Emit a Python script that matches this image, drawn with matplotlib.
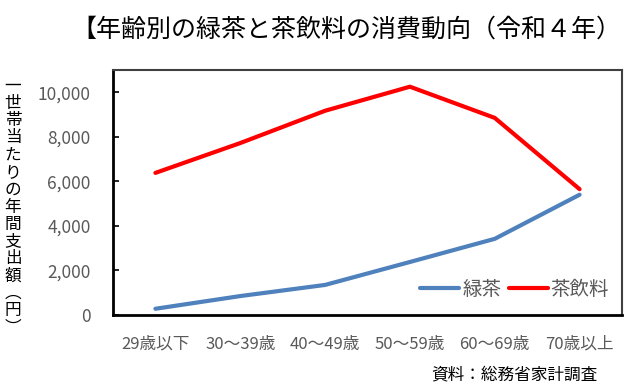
import matplotlib
matplotlib.use("Agg")
import matplotlib.pyplot as plt

plt.rcParams['font.family'] = ['Noto Sans CJK JP', 'DejaVu Sans']

categories = ["29歳以下", "30～39歳", "40～49歳", "50～59歳", "60～69歳", "70歳以上"]
green_tea = [280, 850, 1350, 2380, 3420, 5400]
tea_drinks = [6380, 7720, 9170, 10250, 8850, 5650]
yticks = [0, 2000, 4000, 6000, 8000, 10000]
ytick_labels = ["0", "2,000", "4,000", "6,000", "8,000", "10,000"]

title = "【年齢別の緑茶と茶飲料の消費動向（令和４年）"
ylabel_chars = list("一世帯当たりの年間支出額") + ["︵", "円", "︶"]
source = "資料：総務省家計調査"

fig = plt.figure(figsize=(6.28, 3.87), dpi=100)
ax = fig.add_axes([113/628, 72/387, (622-113)/628, (315-70)/387])

x = list(range(len(categories)))
ax.plot(x, green_tea, color="#4F81BD", lw=3, solid_capstyle="round", label="緑茶")
ax.plot(x, tea_drinks, color="#FF0000", lw=3, solid_capstyle="round", label="茶飲料")

ax.set_xlim(-0.5, len(categories) - 0.5)
ax.set_ylim(0, 11000)
ax.set_yticks(yticks)
ax.set_yticklabels(ytick_labels)
ax.set_xticks(x)
ax.set_xticklabels(categories)

gray = "#595959"
ax.tick_params(axis="y", direction="in", length=4, width=1.2, color="black",
               labelsize=12.5, labelcolor=gray, pad=16)
ax.tick_params(axis="x", length=0, labelsize=12, labelcolor=gray, pad=15)

for s in ["left", "bottom"]:
    ax.spines[s].set_color("black")
    ax.spines[s].set_linewidth(2)
for s in ["top", "right"]:
    ax.spines[s].set_color("#404040")
    ax.spines[s].set_linewidth(1.5)

leg = ax.legend(loc="lower right", ncol=2, frameon=False, fontsize=14,
                handlelength=2.0, handletextpad=0.15, columnspacing=0.4,
                bbox_to_anchor=(0.99, 0.03), borderaxespad=0)
for t in leg.get_texts():
    t.set_color(gray)

fig.text(346/628, 1 - 30/387, title, ha="center", va="center", fontsize=18, color="black")
fig.text(597/628, 1 - 375/387, source, ha="right", va="center", fontsize=12, color="black")

top = 86
step = 17.3
for i, ch in enumerate(ylabel_chars):
    fig.text(13/628, 1 - (top + i * step)/387, ch, ha="center", va="center",
             fontsize=12, color="black")

fig.savefig("out.png", dpi=100)
